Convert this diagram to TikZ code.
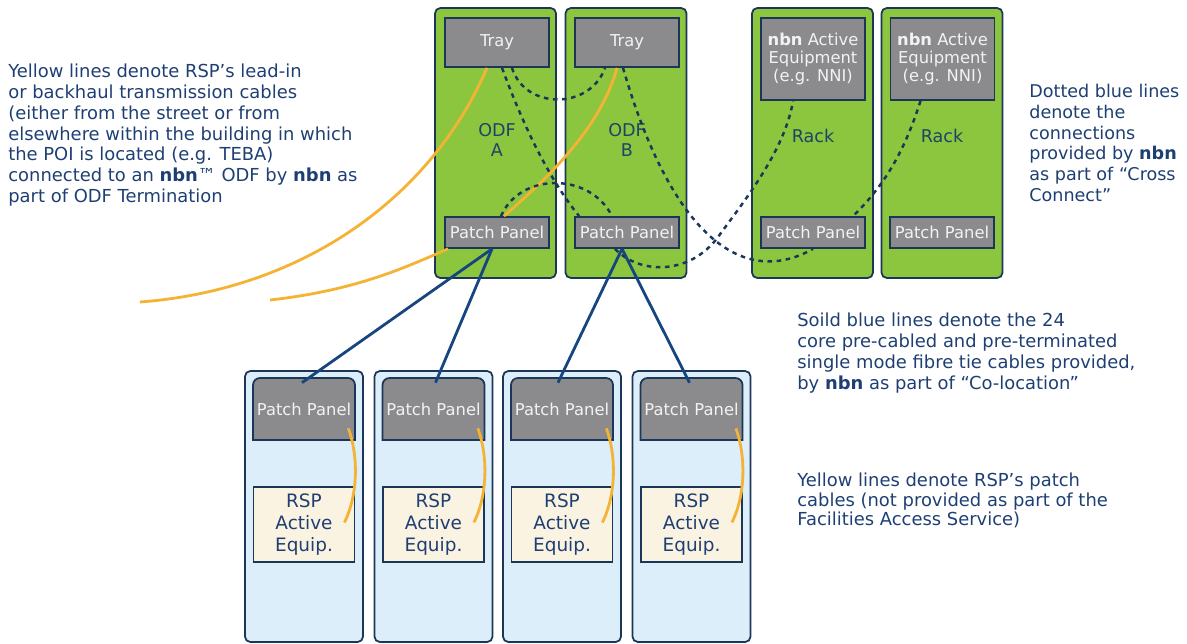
\documentclass[tikz,border=0pt]{standalone}
\usepackage{fontspec}
\setmainfont{DejaVu Sans}
\usetikzlibrary{calc}

\definecolor{rackgreen}{HTML}{8CC63F}
\definecolor{edgeblue}{HTML}{1C3658}
\definecolor{boxgray}{HTML}{8B8B8D}
\definecolor{boxtext}{HTML}{F2F2F2}
\definecolor{lowblue}{HTML}{DCEEF9}
\definecolor{rspcream}{HTML}{FBF3E2}
\definecolor{tieblue}{HTML}{17457F}
\definecolor{cableyellow}{HTML}{F5B335}
\definecolor{notecolor}{HTML}{1E3F73}
\definecolor{labelcolor}{HTML}{1E4466}

\tikzset{
  toprack/.style={draw=edgeblue, fill=rackgreen, line width=1pt, rounded corners=3pt,
    minimum width=2.42cm, minimum height=5.4cm, inner sep=0pt},
  lowrack/.style={draw=edgeblue, fill=lowblue, line width=1pt, rounded corners=3pt,
    minimum width=2.36cm, minimum height=5.42cm, inner sep=0pt},
  graybox/.style={draw=edgeblue, fill=boxgray, line width=1pt, text=boxtext,
    minimum width=2.08cm, inner sep=0pt, font=\fontsize{9.3}{10.5}\selectfont, align=center},
  lowpanel/.style={draw=edgeblue, fill=boxgray, line width=1pt},
  lowpaneltext/.style={text=boxtext, minimum width=2.04cm, minimum height=1.24cm,
    inner sep=0pt, font=\fontsize{9.3}{10.5}\selectfont},
  rspbox/.style={draw=edgeblue, fill=rspcream, line width=1pt, text=notecolor,
    minimum width=2.02cm, minimum height=1.5cm, inner sep=0pt, align=center,
    font=\fontsize{10.5}{12.5}\selectfont},
  racklabel/.style={text=labelcolor, align=center, font=\fontsize{10}{11}\selectfont},
  note/.style={text=notecolor, align=left, inner sep=0pt, anchor=north west,
    font=\fontsize{10.2}{11.8}\selectfont},
  tiecable/.style={draw=tieblue, line width=1.6pt},
  rspcable/.style={draw=cableyellow, line width=1.6pt},
  crossconn/.style={draw=edgeblue, line width=1.4pt, dash pattern=on 2.6pt off 2.6pt}
}

\begin{document}
\begin{tikzpicture}[x=0.02cm, y=-0.02cm]
  \useasboundingbox (0,0) rectangle (1187,643);

  % racks at the top
  \node[toprack] (odfa) at (495.5,143) {};
  \node[toprack] (odfb) at (626,143) {};
  \node[toprack] (rackc) at (812.5,143) {};
  \node[toprack] (rackd) at (942,143) {};

  \node[graybox, minimum height=0.98cm] (traya) at (497,42.5) {Tray};
  \node[graybox, minimum height=0.98cm] (trayb) at (627,42.5) {Tray};
  \node[graybox, minimum height=1.64cm] (nnic) at (813,59) {\textbf{nbn} Active\\Equipment\\(e.g. NNI)};
  \node[graybox, minimum height=1.64cm] (nnid) at (942.5,59) {\textbf{nbn} Active\\Equipment\\(e.g. NNI)};

  \node[racklabel] (odfalabel) at (497,140) {ODF\\A};
  \node[racklabel] (odfblabel) at (627,140) {ODF\\B};
  \node[racklabel] (rackclabel) at (813,136) {Rack};
  \node[racklabel] (rackdlabel) at (942,136) {Rack};

  \node[graybox, minimum height=0.62cm] (ppa) at (497,232.5) {Patch Panel};
  \node[graybox, minimum height=0.62cm] (ppb) at (627,232.5) {Patch Panel};
  \node[graybox, minimum height=0.62cm] (ppc) at (813,232.5) {Patch Panel};
  \node[graybox, minimum height=0.62cm] (ppd) at (942,232.5) {Patch Panel};

  % racks at the bottom
  \foreach \i/\x in {1/304,2/433.5,3/562,4/691.5} {
    \node[lowrack] (low\i) at (\x,506.5) {};
    \node[rspbox] (rsp\i) at (\x,524.5) {RSP\\Active\\Equip.};
    \filldraw[lowpanel] (\x-51,440) [rounded corners=4pt] -- (\x-51,378) -- (\x+51,378)
      [sharp corners] -- (\x+51,440) -- cycle;
    \node[lowpaneltext] (pp\i) at (\x,409) {Patch Panel};
    \draw[rspcable] ($(pp\i.south east)+(-7,-12)$) .. controls ($(pp\i.south east)+(3,15)$)
      and ($(rsp\i.east)+(3,-30)$) .. ($(rsp\i.east)+(-11,-2)$);
  }

  % lead-in cables
  \coordinate (streeta) at (140,302);
  \coordinate (streetb) at (270,300);
  \draw[rspcable] (streeta) .. controls (300,290) and (430,200) .. ($(traya.south)+(-10,0)$);
  \draw[rspcable] (streetb) .. controls (360,290) and (410,265) .. ($(ppa.south west)+(4,0)$);
  \draw[rspcable] ($(ppa.north)+(7,0)$) .. controls (545,180) and (600,130) .. ($(trayb.south)+(-10,0)$);

  % cross connect
  \draw[crossconn] ($(traya.south)+(5,0)$) .. controls (525,130) and (550,180) .. ($(ppb.north west)+(5,0)$);
  \draw[crossconn] ($(traya.south)+(15,0)$) .. controls (525,110) and (590,110) .. ($(trayb.south)+(-22,0)$);
  \draw[crossconn] ($(ppa.north)+(4,0)$) .. controls (520,172) and (590,172) .. ($(ppb.north)+(-15,0)$);
  \draw[crossconn] ($(trayb.south)+(-4,0)$) .. controls (670,230) and (740,290) .. (ppc.south);
  \draw[crossconn] ($(ppb.south)+(-12,0)$) .. controls (640,275) and (690,275) .. (718,237)
    .. controls (745,200) and (785,150) .. ($(nnic.south)+(-20,0)$);
  \draw[crossconn] ($(nnid.south)+(-22,0)$) .. controls (905,150) and (885,185) .. ($(ppc.north)+(40,0)$);

  % tie cables
  \draw[tiecable] ($(ppa.south)+(-5,0)$) -- ($(pp1.north)+(-2,5)$);
  \draw[tiecable] ($(ppa.south)+(-5,0)$) -- ($(pp2.north)+(2,5)$);
  \draw[tiecable] ($(ppb.south)+(-5,0)$) -- ($(pp3.north)+(-4,5)$);
  \draw[tiecable] ($(ppb.south)+(-5,0)$) -- ($(pp4.north)+(-2,5)$);

  % notes
  \node[note] (leadinnote) at (8,64) {Yellow lines denote RSP’s lead-in\\or backhaul transmission cables\\(either from the street or from\\elsewhere within the building in which\\the POI is located (e.g. TEBA)\\connected to an \textbf{nbn}™ ODF by \textbf{nbn} as\\part of ODF Termination};
  \node[note, font=\fontsize{10}{11.8}\selectfont] (crossnote) at (1029,84) {Dotted blue lines\\denote the\\connections\\provided by \textbf{nbn}\\as part of “Cross\\Connect”};
  \node[note] (tienote) at (797,313) {Soild blue lines denote the 24\\core pre-cabled and pre-terminated\\single mode fibre tie cables provided,\\by \textbf{nbn} as part of “Co-location”};
  \node[note, font=\fontsize{10.2}{11}\selectfont] (patchnote) at (797,473) {Yellow lines denote RSP’s patch\\cables (not provided as part of the\\Facilities Access Service)};
\end{tikzpicture}
\end{document}
